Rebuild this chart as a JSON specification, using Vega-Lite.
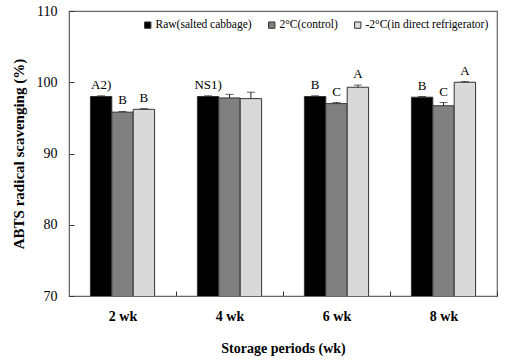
{
  "$schema": "https://vega.github.io/schema/vega-lite/v6.json",
  "width": 428,
  "height": 285,
  "autosize": "none",
  "padding": {"left": 69, "top": 11, "right": 10, "bottom": 66},
  "background": "white",
  "config": {
    "font": "Liberation Serif, Times New Roman, serif",
    "view": {"stroke": "#666666", "strokeWidth": 1.2},
    "axis": {"labelFont": "Liberation Serif, Times New Roman, serif", "titleFont": "Liberation Serif, Times New Roman, serif", "domainColor": "#666666", "tickColor": "#333333", "grid": false, "labelColor": "#000", "titleColor": "#000"},
    "legend": {"labelFont": "Liberation Serif, Times New Roman, serif"}
  },
  "data": {"values": [
    {"period": "2 wk", "group": "Raw(salted cabbage)", "mean": 98.0, "sd": 0.1, "label": "A2)"},
    {"period": "2 wk", "group": "2°C(control)", "mean": 95.8, "sd": 0.1, "label": "B"},
    {"period": "2 wk", "group": "-2°C(in direct refrigerator)", "mean": 96.2, "sd": 0.1, "label": "B"},
    {"period": "4 wk", "group": "Raw(salted cabbage)", "mean": 98.0, "sd": 0.1, "label": "NS1)"},
    {"period": "4 wk", "group": "2°C(control)", "mean": 97.8, "sd": 0.5, "label": ""},
    {"period": "4 wk", "group": "-2°C(in direct refrigerator)", "mean": 97.7, "sd": 0.9, "label": ""},
    {"period": "6 wk", "group": "Raw(salted cabbage)", "mean": 98.0, "sd": 0.1, "label": "B"},
    {"period": "6 wk", "group": "2°C(control)", "mean": 97.0, "sd": 0.15, "label": "C"},
    {"period": "6 wk", "group": "-2°C(in direct refrigerator)", "mean": 99.3, "sd": 0.3, "label": "A"},
    {"period": "8 wk", "group": "Raw(salted cabbage)", "mean": 97.9, "sd": 0.1, "label": "B"},
    {"period": "8 wk", "group": "2°C(control)", "mean": 96.7, "sd": 0.45, "label": "C"},
    {"period": "8 wk", "group": "-2°C(in direct refrigerator)", "mean": 100.0, "sd": 0.1, "label": "A"}
  ]},
  "transform": [{"calculate": "datum.mean + datum.sd", "as": "upper"}],
  "encoding": {
    "x": {"field": "period", "type": "nominal", "sort": ["2 wk", "4 wk", "6 wk", "8 wk"],
      "scale": {"paddingInner": 0, "paddingOuter": 0},
      "axis": {"title": "Storage periods (wk)", "labelAngle": 0, "labelFont": "Liberation Serif, Times New Roman, serif", "titleFont": "Liberation Serif, Times New Roman, serif", "labelFontSize": 14, "labelFontWeight": "bold", "labelPadding": 18, "tickBand": "extent", "tickSize": -5, "titleFontSize": 14, "titleFontWeight": "bold", "titlePadding": 18}},
    "xOffset": {"field": "group", "type": "nominal", "sort": ["Raw(salted cabbage)", "2°C(control)", "-2°C(in direct refrigerator)"],
      "scale": {"paddingInner": 0, "paddingOuter": 1.47}}
  },
  "layer": [
    {
      "mark": {"type": "bar", "stroke": "#333333", "strokeWidth": 1, "clip": true},
      "encoding": {
        "y": {"field": "mean", "type": "quantitative", "scale": {"domain": [70, 110]},
          "axis": {"title": "ABTS radical scavenging (%)", "values": [70, 80, 90, 100, 110], "labelFont": "Liberation Serif, Times New Roman, serif", "titleFont": "Liberation Serif, Times New Roman, serif", "labelFontSize": 14, "tickSize": -5, "labelPadding": 17, "titleFontSize": 15, "titleFontWeight": "bold", "titlePadding": 10}},
        "color": {"field": "group", "type": "nominal", "sort": ["Raw(salted cabbage)", "2°C(control)", "-2°C(in direct refrigerator)"],
          "scale": {"domain": ["Raw(salted cabbage)", "2°C(control)", "-2°C(in direct refrigerator)"], "range": ["#000000", "#808080", "#d9d9d9"]},
          "legend": {"title": null, "orient": "top-right", "direction": "horizontal", "offset": 8, "symbolType": "square", "symbolSize": 40, "symbolStrokeColor": "#333333", "symbolStrokeWidth": 1, "labelFont": "Liberation Serif, Times New Roman, serif", "labelFontSize": 11.5, "labelColor": "#000", "columnPadding": 14, "labelOffset": 2}}
      }
    },
    {
      "mark": {"type": "rule", "color": "#222222", "strokeWidth": 1},
      "encoding": {"y": {"field": "mean", "type": "quantitative"}, "y2": {"field": "upper"}}
    },
    {
      "mark": {"type": "tick", "color": "#222222", "thickness": 1, "size": 8},
      "encoding": {"y": {"field": "upper", "type": "quantitative"}}
    },
    {
      "mark": {"type": "text", "baseline": "bottom", "dy": -4, "fontSize": 13, "font": "Liberation Serif, Times New Roman, serif", "color": "#000"},
      "encoding": {"y": {"field": "upper", "type": "quantitative"}, "text": {"field": "label"}}
    }
  ]
}
